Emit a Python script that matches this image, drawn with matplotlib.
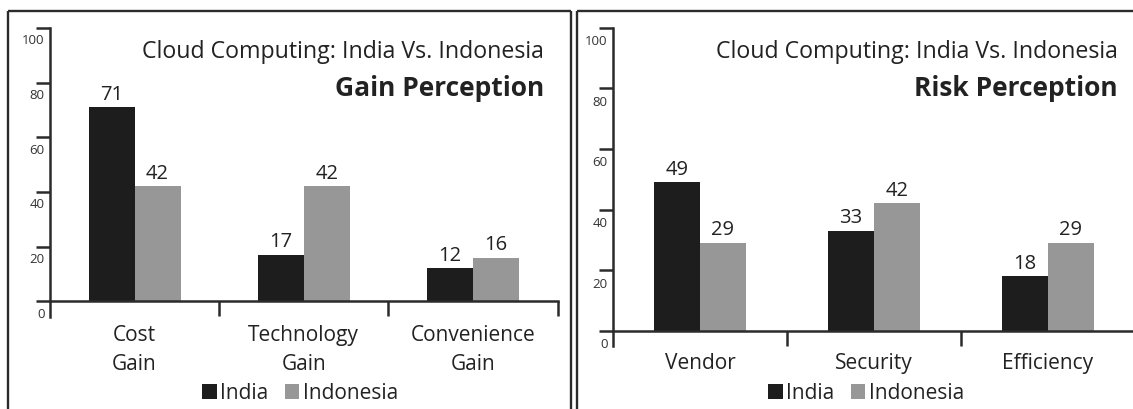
import numpy as np
import matplotlib
matplotlib.use("Agg")
import matplotlib.pyplot as plt
from matplotlib.lines import Line2D
from matplotlib.transforms import ScaledTranslation

# data
gainCategories = ["Cost\nGain", "Technology\nGain", "Convenience\nGain"]
gainIndia = [71, 17, 12]
gainIndonesia = [42, 42, 16]

riskCategories = ["Vendor", "Security", "Efficiency"]
riskIndia = [49, 33, 18]
riskIndonesia = [29, 42, 29]

seriesNames = ["India", "Indonesia"]
yTicks = [0, 20, 40, 60, 80, 100]
mainTitle = "Cloud Computing: India Vs. Indonesia"
panelTitles = ["Gain Perception", "Risk Perception"]

indiaColor = "#1d1d1d"
indonesiaColor = "#979797"
textColor = "#222222"
frameColor = "#2b2b2b"

plt.rcParams["font.family"] = ["Open Sans", "DejaVu Sans"]

W, H = 1133, 410
fig = plt.figure(figsize=(W / 100, H / 100), dpi=100)


def px(x, y):
    # pixel position (top-left origin) -> figure fraction
    return x / W, 1 - y / H


def frameLine(x0, y0, x1, y1):
    a = px(x0, y0)
    b = px(x1, y1)
    fig.add_artist(Line2D([a[0], b[0]], [a[1], b[1]], transform=fig.transFigure,
                          color=frameColor, lw=1.7, solid_capstyle="butt"))


# panel frames
frameLine(7.5, 11.5, 7.5, 412)
frameLine(7.5, 11.5, 571, 11.5)
frameLine(571, 11.5, 571, 412)
frameLine(577, 11.5, 577, 412)
frameLine(577, 11.5, 1135, 11.5)


def drawPanel(box, zeroY, pxPerUnit, axisBottom, cats, india, indo, title, titleRight, legendX,
              labelPad, barWidth, tickOffset):
    left, right, top = box
    ymin = -(axisBottom - zeroY) / pxPerUnit
    topY = zeroY - 100 * pxPerUnit
    ax = fig.add_axes([left / W, 1 - axisBottom / H, (right - left) / W, (axisBottom - topY) / H])
    ax.set_xlim(-0.5, 2.5)
    ax.set_ylim(ymin, 100)
    ax.patch.set_alpha(0)

    x = np.arange(len(cats))
    b1 = ax.bar(x - barWidth / 2, india, barWidth, color=indiaColor, label=seriesNames[0])
    b2 = ax.bar(x + barWidth / 2, indo, barWidth, color=indonesiaColor, label=seriesNames[1])
    for b in (b1, b2):
        ax.bar_label(b, padding=2.5, fontsize=14.5, color=textColor)

    for s in ["top", "right"]:
        ax.spines[s].set_visible(False)
    ax.spines["bottom"].set_position(("data", 0))
    ax.spines["left"].set_position(("data", -0.5))
    for s in ["left", "bottom"]:
        ax.spines[s].set_linewidth(1.8)
        ax.spines[s].set_color(frameColor)

    ax.set_yticks(yTicks)
    ax.tick_params(axis="y", direction="out", length=10, width=1.8, color=frameColor, labelleft=False)
    off = ScaledTranslation(-0.055, -tickOffset / 100, fig.dpi_scale_trans)
    for v in yTicks:
        ax.text(0, v, str(v), transform=ax.get_yaxis_transform() + off, ha="right", va="center",
                fontsize=9.5, color="#333333")

    ax.set_xticks([0.5, 1.5, 2.5])
    ax.set_xticklabels([])
    ax.tick_params(axis="x", which="major", direction="out", length=10.5, width=1.8, color=frameColor)
    ax.set_xticks(x, minor=True)
    ax.set_xticklabels(cats, minor=True, fontsize=15, color=textColor, linespacing=1.5)
    ax.tick_params(axis="x", which="minor", length=0, pad=labelPad)

    tx, ty = px(titleRight, 52)
    fig.text(tx, ty, mainTitle, ha="right", va="center", fontsize=16.7, color=textColor)
    tx, ty = px(titleRight, 88)
    fig.text(tx, ty, title, ha="right", va="center", fontsize=19, fontweight="bold", color=textColor)

    lx, ly = px(legendX, 394)
    fig.legend(handles=[b1, b2], loc="center", bbox_to_anchor=(lx, ly), ncol=2, frameon=False,
               fontsize=15, handlelength=0.7, handleheight=0.7, handletextpad=0.15,
               columnspacing=0.8, borderpad=0, labelcolor=textColor)
    return ax


drawPanel((50, 557.6, 28.8), 302.3, 2.735, 318, gainCategories, gainIndia, gainIndonesia,
          panelTitles[0], 544, 300, 16, 0.272, 12)
drawPanel((613, 1135, 28.7), 331.7, 3.03, 346.7, riskCategories, riskIndia, riskIndonesia,
          panelTitles[1], 1117.5, 866, 15, 0.264, 13)

fig.savefig("out.png", dpi=100)
